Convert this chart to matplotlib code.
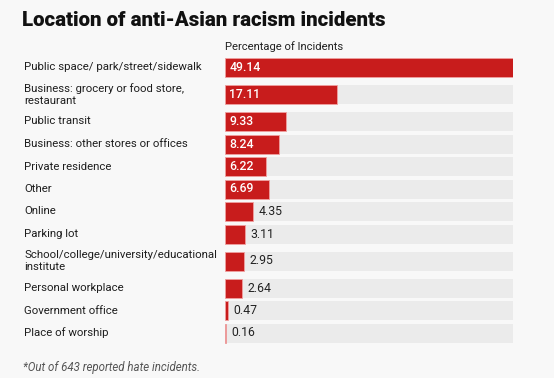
import matplotlib
matplotlib.use("Agg")
import matplotlib.pyplot as plt

categories = [
    "Public space/ park/street/sidewalk",
    "Business: grocery or food store,\nrestaurant",
    "Public transit",
    "Business: other stores or offices",
    "Private residence",
    "Other",
    "Online",
    "Parking lot",
    "School/college/university/educational\ninstitute",
    "Personal workplace",
    "Government office",
    "Place of worship",
]
values = [49.14, 17.11, 9.33, 8.24, 6.22, 6.69, 4.35, 3.11, 2.95, 2.64, 0.47, 0.16]
value_labels = ["49.14", "17.11", "9.33", "8.24", "6.22", "6.69", "4.35", "3.11", "2.95", "2.64", "0.47", "0.16"]
axis_max = 44  # scale domain; the largest bar overflows and is clipped

W, H = 554, 378
plt.rcParams['font.family'] = ['Roboto', 'DejaVu Sans']
fig = plt.figure(figsize=(W / 100, H / 100), dpi=100)
bg = "#f8f8f8"
fig.patch.set_facecolor(bg)

x0, x1 = 225, 513
ax = fig.add_axes([x0 / W, 0, (x1 - x0) / W, 1])
ax.set_facecolor("none")
ax.set_xlim(0, axis_max)
ax.set_ylim(H, 0)
ax.axis("off")

# row layout in pixels from top
first_center = 67.5
base_step = 22.5
extra = 4.5
centers = []
c = first_center
for i, lab in enumerate(categories):
    if i > 0:
        prev_lines = categories[i - 1].count("\n")
        cur_lines = lab.count("\n")
        c += base_step + extra * (prev_lines + cur_lines)
    centers.append(c)

bar_h = 19
red = "#c81c1c"
px_per_unit = (x1 - x0) / axis_max
for lab, v, vl, yc in zip(categories, values, value_labels, centers):
    ax.barh(yc, axis_max, height=bar_h, color="#ebebeb", edgecolor="none", zorder=1)
    ax.barh(yc, v, height=bar_h, color=red, edgecolor="#f0a0a0", linewidth=0.6, zorder=2)
    if v > 5:
        ax.text(4.5 / px_per_unit, yc, vl, color="white", fontsize=8.8, fontweight="medium",
                va="center", ha="left", zorder=3)
    else:
        ax.text(v + 5 / px_per_unit, yc, vl, color="#222222", fontsize=8.8,
                va="center", ha="left", zorder=3)
    fig.text(24.5 / W, 1 - yc / H, lab, color="#1e1e1e", fontsize=8.2, va="center", ha="left",
             linespacing=1.22)

fig.text(22 / W, 1 - 20 / H, "Location of anti-Asian racism incidents", fontsize=14.8,
         fontweight="heavy", color="#111111", va="center", ha="left")
fig.text(225 / W, 1 - 47 / H, "Percentage of Incidents", fontsize=8.1, color="#222222",
         va="center", ha="left")
fig.text(23 / W, 1 - 367 / H, "*Out of 643 reported hate incidents.", fontsize=8.3,
         style="italic", color="#555555", va="center", ha="left")

fig.savefig("out.png", dpi=100, facecolor=bg)
